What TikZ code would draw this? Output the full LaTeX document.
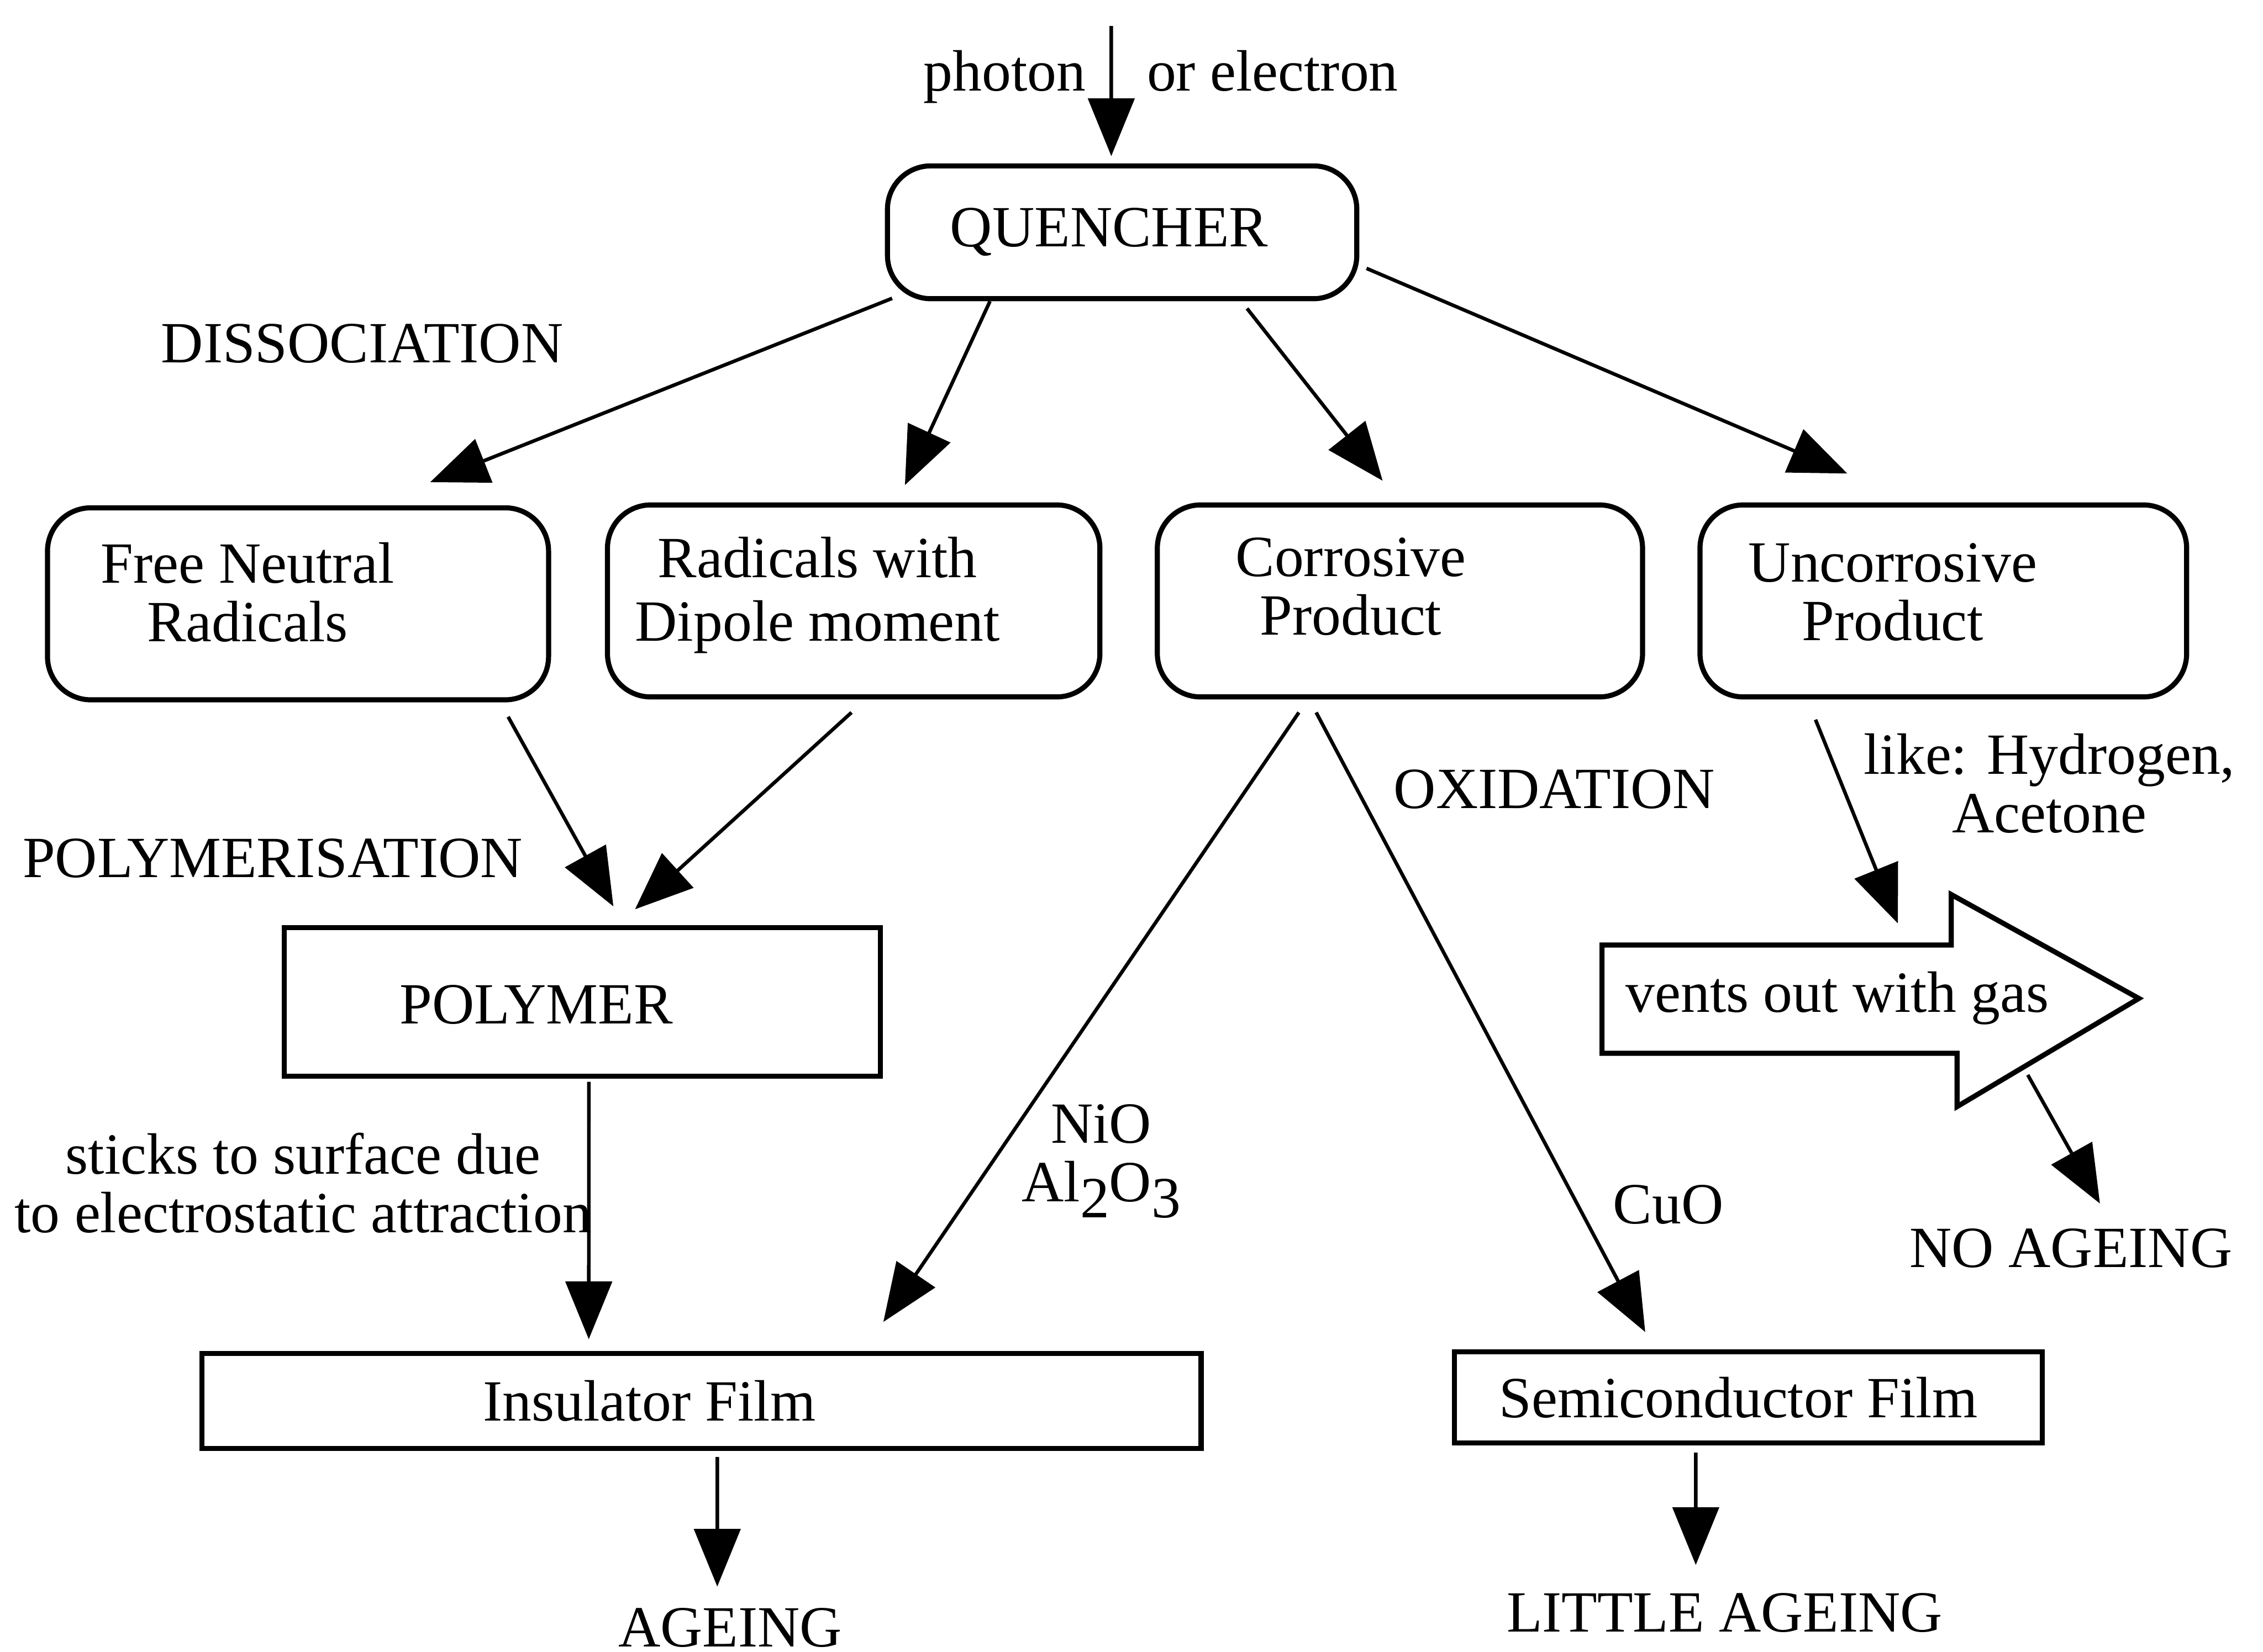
\documentclass[tikz,border=0pt]{standalone}
\usepackage{fontspec}
\setmainfont{Liberation Serif}
\usetikzlibrary{arrows.meta}

\begin{document}
\begin{tikzpicture}[x=0.01cm,y=-0.01cm,->,>={Triangle[length=0.4cm,width=0.32cm]},line width=0.7pt,
    font=\fontsize{11.5}{11.5}\selectfont,
    round node/.style={rectangle,rounded corners=0.3cm,draw,line width=1pt,inner sep=0pt},
    flat node/.style={rectangle,draw,line width=1pt,inner sep=0pt},
    text node/.style={align=center,inner sep=1pt}]
  \useasboundingbox (0,0) rectangle (1568,1145);
  % boxes
  \node[round node,minimum width=3.25cm,minimum height=0.92cm,
    label={[text node,xshift=-0.09cm]center:QUENCHER}] (quencher) at (777.5,161) {};
  \node[round node,minimum width=3.47cm,minimum height=1.33cm,
    label={[text node,xshift=-0.35cm,yshift=0.08cm]center:{Free Neutral\\Radicals}}] (free) at (206.5,418.5) {};
  \node[round node,minimum width=3.41cm,minimum height=1.33cm,
    label={[text node,xshift=-0.25cm,yshift=0.04cm]center:{Radicals with\\[1pt]Dipole moment}}] (dipole) at (591.5,416.5) {};
  \node[round node,minimum width=3.36cm,minimum height=1.33cm,
    label={[text node,xshift=-0.34cm,yshift=0.1cm]center:{Corrosive\\Product}}] (corrosive) at (970,416.5) {};
  \node[round node,minimum width=3.37cm,minimum height=1.33cm,
    label={[text node,xshift=-0.35cm,yshift=0.06cm]center:{Uncorrosive\\Product}}] (uncorrosive) at (1346.5,416.5) {};
  \node[flat node,minimum width=4.13cm,minimum height=1.03cm,
    label={[text node,xshift=-0.32cm,yshift=-0.02cm]center:POLYMER}] (polymer) at (403.5,694.5) {};
  \node[flat node,minimum width=6.92cm,minimum height=0.66cm,
    label={[text node,xshift=-0.36cm]center:Insulator Film}] (insulator) at (486,971) {};
  \node[flat node,minimum width=4.07cm,minimum height=0.63cm,
    label={[text node,xshift=-0.07cm]center:Semiconductor Film}] (semicond) at (1211.5,968.5) {};
  % labels
  \coordinate (source) at (770,18);
  \node[text node,anchor=base east] (photon) at (757,63) {photon};
  \node[text node,anchor=base west] (electron) at (790,63) {or electron};
  \node[text node] (dissoc) at (251,238) {DISSOCIATION};
  \node[text node] (polymerisation) at (189,595) {POLYMERISATION};
  \node[text node] (oxidation) at (1077,547) {OXIDATION};
  \node[text node] (sticks) at (210,820) {sticks to surface due\\to electrostatic attraction};
  \node[text node] (oxides) at (763,805) {NiO\\Al\raisebox{-0.6ex}{2}O\raisebox{-0.6ex}{3}};
  \node[text node] (cuo) at (1156,835) {CuO};
  \node[text node] (like) at (1420,543) {like: Hydrogen,\\Acetone};
  \node[text node] (noageing) at (1435,865) {NO AGEING};
  \node[text node] (ageing) at (506,1128) {AGEING};
  \node[text node] (little) at (1195,1118) {LITTLE AGEING};
  % vent arrow
  \draw[-,line width=1pt] (1110,655) -- (1352,655) -- (1352,620) -- (1482,692) -- (1356,767)
     -- (1356,730) -- (1110,730) -- cycle;
  \node[text node] (vent) at (1273,692) {vents out with gas};
  \coordinate (ventin) at (1315,640);
  \coordinate (ventout) at (1405,745);
  % connectors
  \path (source) edge ([xshift=-0.075cm,yshift=0.05cm]quencher.north);
  \path ([xshift=0.05cm,yshift=0.02cm]quencher.south west) edge ([xshift=0.915cm,yshift=0.16cm]free.north);
  \path ([xshift=-0.915cm]quencher.south) edge ([xshift=0.355cm,yshift=0.12cm]dipole.north);
  \path ([xshift=0.865cm,yshift=-0.05cm]quencher.south) edge ([xshift=-0.12cm,yshift=0.15cm]corrosive.north);
  \path ([xshift=0.05cm,yshift=-0.25cm]quencher.east) edge ([xshift=-0.665cm,yshift=0.2cm]uncorrosive.north);
  \path ([xshift=1.455cm,yshift=-0.1cm]free.south) edge ([xshift=0.215cm,yshift=0.13cm]polymer.north);
  \path ([xshift=-0.015cm,yshift=-0.09cm]dipole.south) edge ([xshift=0.365cm,yshift=0.11cm]polymer.north);
  \path ([xshift=0.045cm,yshift=-0.02cm]polymer.south) edge ([xshift=-0.78cm,yshift=0.08cm]insulator.north);
  \path ([xshift=-0.7cm,yshift=-0.09cm]corrosive.south) edge ([xshift=1.26cm,yshift=0.2cm]insulator.north);
  \path ([xshift=-0.58cm,yshift=-0.09cm]corrosive.south) edge ([xshift=-0.715cm,yshift=0.12cm]semicond.north);
  \path ([xshift=0.11cm,yshift=-0.04cm]insulator.south) edge ([xshift=-0.09cm,yshift=0.1cm]ageing.north);
  \path ([xshift=-0.365cm,yshift=-0.05cm]semicond.south) edge ([xshift=-0.2cm,yshift=0.15cm]little.north);
  \path ([xshift=-0.885cm,yshift=-0.14cm]uncorrosive.south) edge (ventin);
  \path (ventout) edge ([xshift=0.2cm,yshift=0.125cm]noageing.north);
\end{tikzpicture}
\end{document}
